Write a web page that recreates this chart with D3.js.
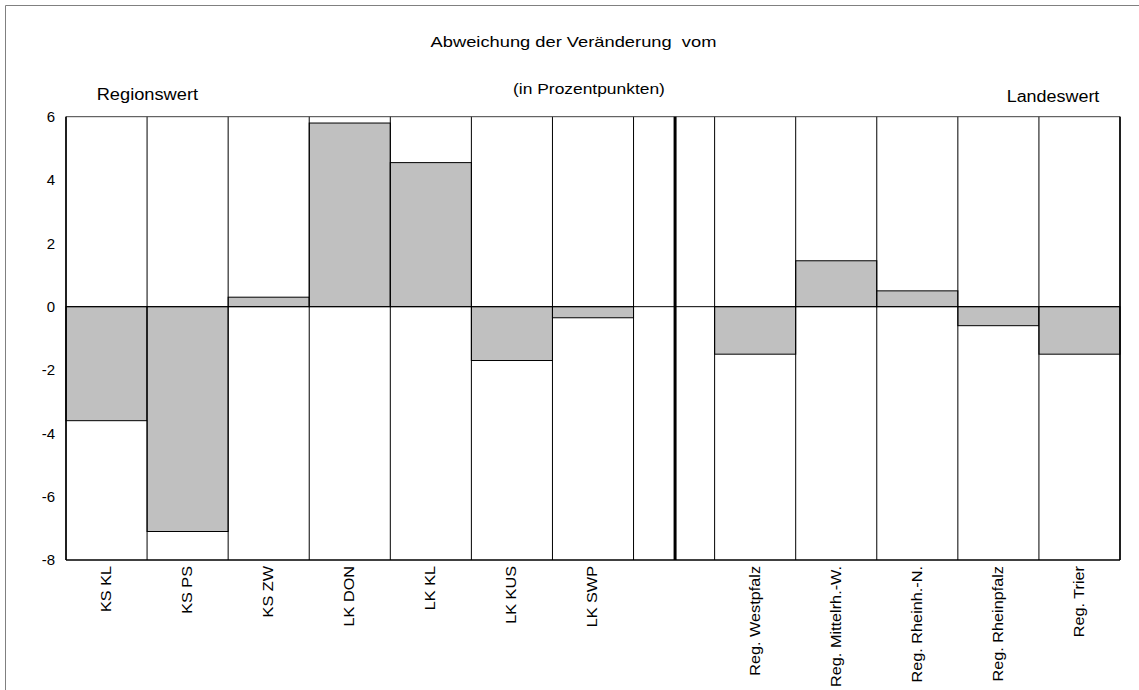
<!DOCTYPE html>
<html>
<head>
<meta charset="utf-8">
<script src="https://cdn.jsdelivr.net/npm/d3@7"></script>
<style>
  html, body { margin: 0; padding: 0; background: #fff; }
  svg { display: block; font-family: "Liberation Sans", Arial, sans-serif; }
</style>
</head>
<body>
<svg id="chart" width="1139" height="690"></svg>
<script>
// Districts of the Westpfalz region, a spacer slot, then the planning regions
const categories = ["KS KL", "KS PS", "KS ZW", "LK DON", "LK KL", "LK KUS", "LK SWP", "",
  "Reg. Westpfalz", "Reg. Mittelrh.-W.", "Reg. Rheinh.-N.", "Reg. Rheinpfalz", "Reg. Trier"];
// Deviation in percentage points (null = spacer)
const values = [-3.6, -7.1, 0.3, 5.8, 4.55, -1.7, -0.35, null, -1.5, 1.45, 0.5, -0.6, -1.5];
const yTicks = [-8, -6, -4, -2, 0, 2, 4, 6];
const yDomain = [-8, 6];
const titleLines = ["Abweichung der Veränderung  vom", "(in Prozentpunkten)"];
const leftHeading = "Regionswert";
const rightHeading = "Landeswert";

(function () {
  const svg = d3.select("#chart");
  const plotLeft = 66, plotRight = 1120, plotTop = 116.7, plotBottom = 560;

  const x = d3.scaleBand().domain(categories).range([plotLeft, plotRight]).padding(0);
  const y = d3.scaleLinear().domain(yDomain).range([plotBottom, plotTop]);

  // stretch text along its own direction
  function stretch(sel, k) {
    sel.each(function () {
      const w = this.getComputedTextLength();
      d3.select(this).attr("textLength", w * k).attr("lengthAdjust", "spacingAndGlyphs");
    });
  }

  // outer frame
  svg.append("line").attr("x1", 5.5).attr("x2", 1139).attr("y1", 5.5).attr("y2", 5.5)
    .attr("stroke", "#808080");
  svg.append("line").attr("x1", 5.5).attr("x2", 5.5).attr("y1", 5.5).attr("y2", 690)
    .attr("stroke", "#808080");

  // titles
  const t1 = svg.append("text").attr("x", 573.5).attr("y", 46.7).attr("text-anchor", "middle")
    .attr("font-size", 15).attr("fill", "#000").style("white-space", "pre").text(titleLines[0]);
  stretch(t1, 1.22);
  const t2 = svg.append("text").attr("x", 589).attr("y", 93.5).attr("text-anchor", "middle")
    .attr("font-size", 15).attr("fill", "#000").text(titleLines[1]);
  stretch(t2, 1.16);
  const hl = svg.append("text").attr("x", 96.7).attr("y", 99.5)
    .attr("font-size", 16).attr("fill", "#000").text(leftHeading);
  stretch(hl, 1.14);
  const hr = svg.append("text").attr("x", 1006.7).attr("y", 101.5)
    .attr("font-size", 16).attr("fill", "#000").text(rightHeading);
  stretch(hr, 1.12);

  // bars
  const data = categories.map((c, i) => ({ c, v: values[i] })).filter(d => d.v !== null);
  svg.append("g").selectAll("rect").data(data).join("rect")
    .attr("x", d => x(d.c))
    .attr("width", x.bandwidth())
    .attr("y", d => y(Math.max(0, d.v)))
    .attr("height", d => Math.abs(y(d.v) - y(0)))
    .attr("fill", "#c0c0c0")
    .attr("stroke", "#000")
    .attr("stroke-width", 1);

  // vertical separators between slots
  const bounds = categories.map(c => x(c)).concat([plotRight]);
  svg.append("g").selectAll("line").data(bounds).join("line")
    .attr("x1", d => d).attr("x2", d => d)
    .attr("y1", plotTop).attr("y2", plotBottom)
    .attr("stroke", "#000").attr("stroke-width", 1);

  // zero line
  svg.append("line").attr("x1", plotLeft).attr("x2", plotRight).attr("y1", y(0)).attr("y2", y(0))
    .attr("stroke", "#000").attr("stroke-width", 1);

  // plot frame
  svg.append("line").attr("x1", plotLeft).attr("x2", plotRight).attr("y1", plotTop).attr("y2", plotTop)
    .attr("stroke", "#404040").attr("stroke-width", 1);
  svg.append("line").attr("x1", plotLeft).attr("x2", plotRight).attr("y1", plotBottom).attr("y2", plotBottom)
    .attr("stroke", "#000").attr("stroke-width", 1.5);
  svg.append("line").attr("x1", plotLeft).attr("x2", plotLeft).attr("y1", plotTop).attr("y2", plotBottom)
    .attr("stroke", "#000").attr("stroke-width", 1.5);
  svg.append("line").attr("x1", plotRight).attr("x2", plotRight).attr("y1", plotTop).attr("y2", plotBottom)
    .attr("stroke", "#000").attr("stroke-width", 1.5);

  // divider between districts and regions
  const gapX = x("") + x.bandwidth() / 2 + 1;
  svg.append("line").attr("x1", gapX).attr("x2", gapX).attr("y1", plotTop).attr("y2", plotBottom)
    .attr("stroke", "#000").attr("stroke-width", 3);

  // y axis
  const yAxis = svg.append("g").attr("transform", `translate(${plotLeft},0)`)
    .call(d3.axisLeft(y).tickValues(yTicks).tickSize(0).tickPadding(11).tickFormat(d => String(d)));
  yAxis.select(".domain").remove();
  yAxis.selectAll("text").attr("font-size", 15).attr("fill", "#000")
    .attr("font-family", "Liberation Sans, Arial, sans-serif");

  // category labels, rotated
  const lab = svg.append("g").selectAll("text").data(categories.filter(c => c !== "")).join("text")
    .attr("transform", d => `translate(${x(d) + x.bandwidth() / 2},566) rotate(-90)`)
    .attr("text-anchor", "end")
    .attr("dy", "0.32em")
    .attr("font-size", 14)
    .attr("fill", "#000")
    .text(d => d);
  stretch(lab, 1.16);
})();
</script>
</body>
</html>
